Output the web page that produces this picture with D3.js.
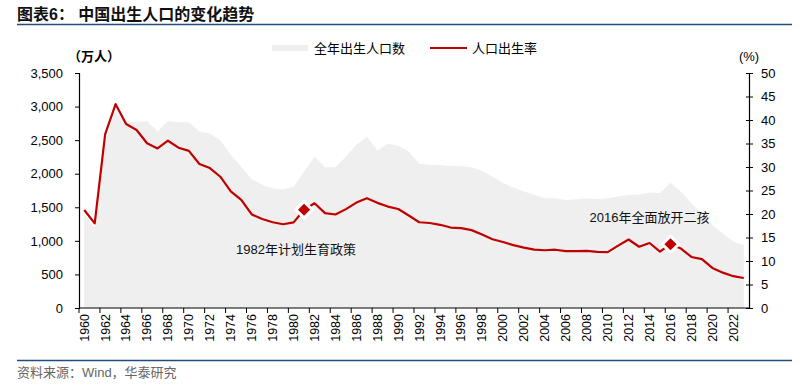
<!DOCTYPE html>
<html>
<head>
<meta charset="utf-8">
<script src="https://cdn.jsdelivr.net/npm/d3@7"></script>
<style>
  body { margin: 0; background: #fff; }
  svg text { font-family: "Liberation Sans", Arial, "Noto Sans CJK SC", sans-serif; }
</style>
</head>
<body>
<svg id="chart" width="800" height="385"></svg>
<script>
/* data */
const years = d3.range(1960, 2024);

// 全年出生人口数 (万人)
const births = [
  1400, 1190, 2460, 2950, 2780, 2770, 2790, 2630, 2785, 2765,
  2765, 2630, 2600, 2500, 2280, 2105, 1915, 1835, 1780, 1765,
  1805, 2030, 2255, 2095, 2095, 2255, 2430, 2550, 2345, 2445,
  2415, 2330, 2150, 2130, 2130, 2115, 2110, 2095, 2045, 1955,
  1860, 1795, 1735, 1685, 1635, 1635, 1610, 1620, 1635, 1620,
  1635, 1660, 1685, 1685, 1720, 1710, 1865, 1735, 1560, 1400,
  1240, 1110, 990, 940
];

// 人口出生率 (‰)
const birthRate = [
  20.86, 18.02, 37.01, 43.37, 39.14, 37.88, 35.05, 33.96, 35.59, 34.11,
  33.43, 30.65, 29.77, 27.93, 24.82, 23.01, 19.91, 18.93, 18.25, 17.82,
  18.21, 20.91, 22.28, 20.19, 19.90, 21.04, 22.43, 23.33, 22.37, 21.58,
  21.06, 19.68, 18.24, 18.09, 17.70, 17.12, 16.98, 16.57, 15.64, 14.64,
  14.03, 13.38, 12.86, 12.41, 12.29, 12.40, 12.09, 12.10, 12.14, 11.95,
  11.90, 13.27, 14.57, 13.03, 13.83, 11.99, 13.57, 12.64, 10.86, 10.41,
  8.52, 7.52, 6.77, 6.39
];

const leftTicks = [0, 500, 1000, 1500, 2000, 2500, 3000, 3500];
const rightTicks = [0, 5, 10, 15, 20, 25, 30, 35, 40, 45, 50];
const labelYears = years.filter(y => y % 2 === 0);

const markYears = [1981, 2016];
const notes = [
  { year: 1981, text: "1982年计划生育政策", dx: -8, dy: 44 },
  { year: 2016, text: "2016年全面放开二孩", dx: -21, dy: -22 }
];

const RED = "#c00000";
const GREY = "#efefef";
const NAVY = "#1f4e79";

/* layout */
const margin = { left: 79, right: 51, top: 73, bottom: 77 };
const W = 800, H = 385;

const svg = d3.select("#chart");

/* Scale */
const xScale = d3.scaleBand()
  .domain(years)
  .range([margin.left, W - margin.right]);
const xc = y => xScale(y) + xScale.bandwidth() / 2;

const yLeft = d3.scaleLinear()
  .domain([0, 3500])
  .range([H - margin.bottom, margin.top]);

const yRight = d3.scaleLinear()
  .domain([0, 50])
  .range([H - margin.bottom, margin.top]);

const rows = years.map((y, i) => ({ year: y, births: births[i], rate: birthRate[i] }));

/* area of births */
const area = d3.area()
  .x(d => xc(d.year))
  .y0(yLeft(0))
  .y1(d => yLeft(d.births));

svg.append("path")
  .datum(rows)
  .attr("d", area)
  .attr("fill", GREY);

/* line of birth rate */
const line = d3.line()
  .x(d => xc(d.year))
  .y(d => yRight(d.rate));

svg.append("path")
  .datum(rows)
  .attr("d", line)
  .attr("fill", "none")
  .attr("stroke", RED)
  .attr("stroke-width", 2.2)
  .attr("stroke-linejoin", "round");

/* diamond markers */
svg.selectAll(".mark")
  .data(rows.filter(d => markYears.includes(d.year)))
  .enter()
  .append("path")
  .attr("class", "mark")
  .attr("d", d3.symbol(d3.symbolSquare, 135))
  .attr("transform", d => `translate(${xc(d.year)},${yRight(d.rate)}) rotate(45)`)
  .attr("fill", RED)
  .attr("stroke", "#fff")
  .attr("stroke-width", 3);

/* annotations */
svg.selectAll(".note")
  .data(notes)
  .enter()
  .append("text")
  .attr("class", "note")
  .attr("x", d => xc(d.year) + d.dx)
  .attr("y", d => yRight(birthRate[years.indexOf(d.year)]) + d.dy)
  .attr("text-anchor", "middle")
  .attr("font-size", 13)
  .attr("fill", "#111")
  .text(d => d.text);

/* Axes */
const leftAxis = d3.axisLeft(yLeft)
  .tickValues(leftTicks)
  .tickFormat(d3.format(","))
  .tickSize(4)
  .tickPadding(12);

const gl = svg.append("g")
  .attr("transform", `translate(${margin.left},0)`)
  .call(leftAxis);

const rightAxis = d3.axisRight(yRight)
  .tickValues(rightTicks)
  .tickSize(4)
  .tickPadding(8);

const gr = svg.append("g")
  .attr("transform", `translate(${W - margin.right},0)`)
  .call(rightAxis);

// right ticks cross the axis line
gr.selectAll(".tick line").attr("x1", -3);

const bottomAxis = d3.axisBottom(xScale)
  .tickValues(labelYears)
  .tickSize(0)
  .tickPadding(0);

const gb = svg.append("g")
  .attr("transform", `translate(0,${H - margin.bottom})`)
  .call(bottomAxis);

gb.selectAll(".tick text")
  .attr("transform", "rotate(-90)")
  .attr("text-anchor", "end")
  .attr("x", -6)
  .attr("y", 0)
  .attr("dy", "0.35em")
  .attr("font-size", 12.5);

// tick marks between categories, every 2 years
gb.selectAll(".sep")
  .data(labelYears)
  .enter()
  .append("line")
  .attr("class", "sep")
  .attr("x1", d => xScale(d))
  .attr("x2", d => xScale(d))
  .attr("y1", 0)
  .attr("y2", 5)
  .attr("stroke", "#000");

[gl, gr, gb].forEach(g => {
  g.select(".domain").attr("stroke", "#000").attr("stroke-width", 1.2);
  g.selectAll(".tick line").attr("stroke", "#000");
  g.selectAll(".tick text").attr("fill", "#000");
});
gl.selectAll(".tick text").attr("font-size", 13);
gr.selectAll(".tick text").attr("font-size", 13);
gb.select(".domain").attr("d", `M${margin.left},0H${W - margin.right}`);

/* units */
svg.append("text")
  .attr("x", 68).attr("y", 61)
  .attr("font-size", 13).attr("font-weight", "bold")
  .text("（万人）");

svg.append("text")
  .attr("x", W - margin.right).attr("y", 61)
  .attr("text-anchor", "middle")
  .attr("font-size", 13)
  .text("(%)");

/* legend */
const lg = svg.append("g").attr("transform", "translate(272,48)");
lg.append("rect").attr("x", 0).attr("y", -3).attr("width", 36).attr("height", 6).attr("fill", GREY);
lg.append("text").attr("x", 42).attr("y", 0).attr("dy", "0.35em").attr("font-size", 13).text("全年出生人口数");
lg.append("line").attr("x1", 158).attr("x2", 195).attr("y1", 0).attr("y2", 0)
  .attr("stroke", RED).attr("stroke-width", 2.2);
lg.append("text").attr("x", 200).attr("y", 0).attr("dy", "0.35em").attr("font-size", 13).text("人口出生率");

/* title and source */
svg.append("text")
  .attr("x", 17).attr("y", 20)
  .attr("font-size", 16).attr("font-weight", "bold")
  .attr("fill", "#111")
  .text("图表6：  中国出生人口的变化趋势");

svg.append("line")
  .attr("x1", 17).attr("x2", 792).attr("y1", 24.5).attr("y2", 24.5)
  .attr("stroke", NAVY).attr("stroke-width", 1.5);

svg.append("line")
  .attr("x1", 17).attr("x2", 792).attr("y1", 360.5).attr("y2", 360.5)
  .attr("stroke", NAVY).attr("stroke-width", 1.5);

svg.append("text")
  .attr("x", 17).attr("y", 377)
  .attr("font-size", 13).attr("fill", "#666")
  .text("资料来源：Wind，华泰研究");
</script>
</body>
</html>
